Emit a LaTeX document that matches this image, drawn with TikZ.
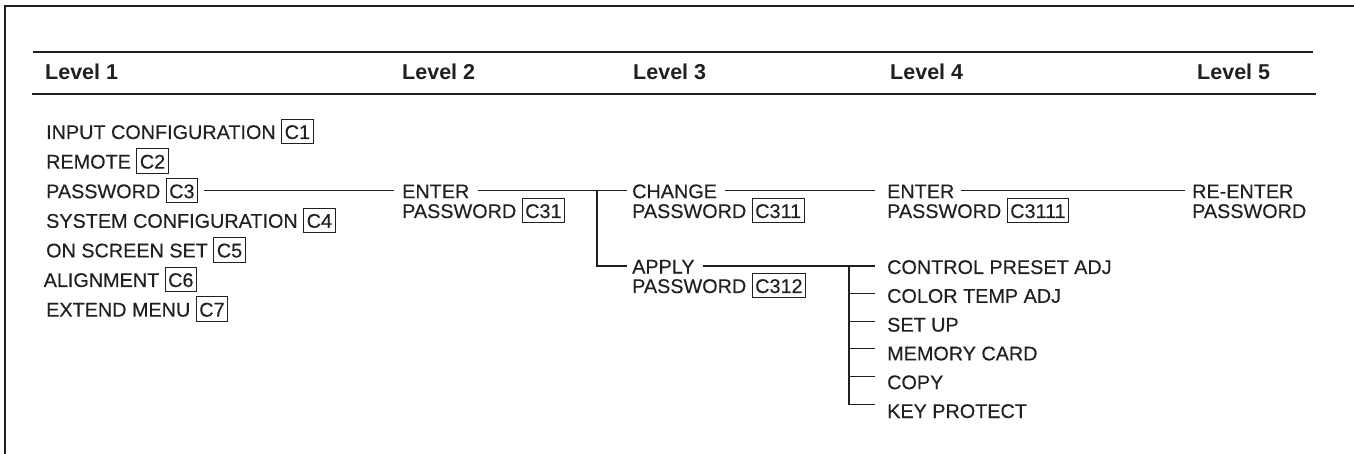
\documentclass[tikz,border=0pt]{standalone}
\usepackage{fontspec}
\setmainfont{Liberation Sans}
\newfontfamily\bodyf{Liberation Sans}[FakeBold=0.3]
\definecolor{ink}{RGB}{35,31,32}
\newcommand\cbx[1]{{\setlength\fboxsep{0pt}\setlength\fboxrule{0.9pt}\fbox{\kern2.6pt\rule[-4.2pt]{0pt}{23.4pt}#1\kern2.6pt}}}
\tikzset{
  item/.style={anchor=base west, inner sep=0pt, text height=20.1pt, text depth=5.1pt,
    font=\bodyf\fontsize{19.8}{20}\selectfont, text=ink},
  head/.style={anchor=base west, inner sep=0pt, font=\fontsize{21.5}{22}\selectfont\bfseries, text=ink},
  link/.style={draw=ink, line width=1.1pt},
  thinrule/.style={draw=ink, line width=1.2pt},
  thickrule/.style={draw=ink, line width=2.2pt},
  frameline/.style={draw=ink, line width=1.3pt},
}
\begin{document}
\begin{tikzpicture}[x=1pt,y=-1pt]
\useasboundingbox (0,0) rectangle (1354,454);
% frame
\coordinate (ftl) at (5,6);
\coordinate (ftr) at (1354,6);
\coordinate (fbl) at (5,454);
\draw[frameline] (ftr) -- (ftl) -- (fbl);
% header rules
\coordinate (t1) at (33,52);
\coordinate (t2) at (1313,52);
\coordinate (b1) at (31.5,94);
\coordinate (b2) at (1316,94);
\draw[thinrule] (t1) -- (t2);
\draw[thickrule] (b1) -- (b2);
% headers
\node[head] (h1) at (45,80) {Level 1};
\node[head] (h2) at (402,80) {Level 2};
\node[head] (h3) at (633,80) {Level 3};
\node[head] (h4) at (890,80) {Level 4};
\node[head] (h5) at (1197,80) {Level 5};
% level 1
\node[item] (c1) at (46,139) {INPUT CONFIGURATION \cbx{C1}};
\node[item] (c2) at (46,168.6) {REMOTE \cbx{C2}};
\node[item] (c3) at (46,198.2) {PASSWORD \cbx{C3}};
\node[item] (c4) at (46,227.8) {SYSTEM CONFIGURATION \cbx{C4}};
\node[item] (c5) at (46,257.4) {ON SCREEN SET \cbx{C5}};
\node[item] (c6) at (43.5,287) {ALIGNMENT \cbx{C6}};
\node[item] (c7) at (46,316.6) {EXTEND MENU \cbx{C7}};
% level 2
\node[item] (c31) at (402,198.2) {ENTER};
\node[item] (c31b) at (402,218) {PASSWORD \cbx{C31}};
% level 3
\node[item] (c311) at (632,198.2) {CHANGE};
\node[item] (c311b) at (632,218) {PASSWORD \cbx{C311}};
\node[item] (c312) at (632,273.5) {APPLY};
\node[item] (c312b) at (632,293) {PASSWORD \cbx{C312}};
% level 4
\node[item] (c3111) at (887,198.2) {ENTER};
\node[item] (c3111b) at (887,218) {PASSWORD \cbx{C3111}};
\node[item] (p1) at (887,274) {CONTROL PRESET ADJ};
\node[item] (p2) at (887,302.8) {COLOR TEMP ADJ};
\node[item] (p3) at (887,331.6) {SET UP};
\node[item] (p4) at (887,360.4) {MEMORY CARD};
\node[item] (p5) at (887,389.2) {COPY};
\node[item] (p6) at (887,418) {KEY PROTECT};
% level 5
\node[item] (re) at (1192,198.2) {RE-ENTER};
\node[item] (reb) at (1192,218) {PASSWORD};
% junctions
\coordinate (j1) at (597,0);
\coordinate (j2) at (849,0);
% connectors
\draw[link] ([xshift=6pt]c3.east) -- ([xshift=-8pt]c31.west);
\draw[link] ([xshift=8pt]c31.east) -- ([xshift=-5pt]c311.west);
\draw[link] (j1 |- c311.west) -- (j1 |- c312.west) -- ([xshift=-5pt]c312.west);
\draw[link] ([xshift=8pt]c311.east) -- ([xshift=-12pt]c3111.west);
\draw[link] ([xshift=6pt]c3111.east) -- ([xshift=-7pt]re.west);
\draw[link] ([xshift=8pt]c312.east) -- ([xshift=-12pt]p1.west |- c312.east);
\draw[link] (j2 |- c312.west) -- ([yshift=5.6pt]j2 |- p6.west) -- ([xshift=-12pt,yshift=5.6pt]p6.west);
\draw[link] ([yshift=2pt]j2 |- p2.west) -- ([xshift=-12pt,yshift=2pt]p2.west);
\draw[link] ([yshift=3pt]j2 |- p3.west) -- ([xshift=-12pt,yshift=3pt]p3.west);
\draw[link] ([yshift=4pt]j2 |- p4.west) -- ([xshift=-12pt,yshift=4pt]p4.west);
\draw[link] ([yshift=5pt]j2 |- p5.west) -- ([xshift=-12pt,yshift=5pt]p5.west);
\end{tikzpicture}
\end{document}
